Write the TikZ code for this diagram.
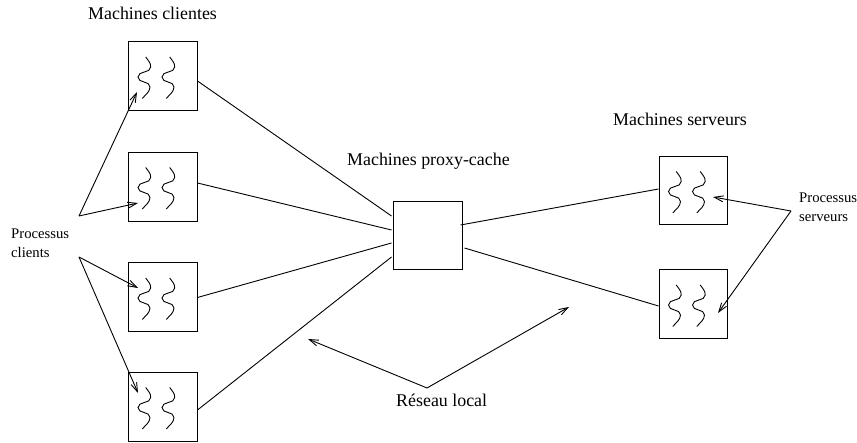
\documentclass[tikz,border=0pt]{standalone}
\usepackage{fontspec}
\setmainfont{Liberation Serif}
\usetikzlibrary{calc,arrows.meta}
\tikzset{
  machine/.style={draw, line width=1pt, minimum width=69pt, minimum height=69pt, inner sep=0pt},
  link/.style={line width=0.9pt},
  pointer/.style={line width=0.9pt, -{Straight Barb[length=9pt,width=6pt,line width=0.9pt]}},
  bigtext/.style={inner sep=0pt, anchor=base west, font=\fontsize{17.9}{21}\selectfont},
  smalltext/.style={inner sep=0pt, anchor=base west, align=left, font=\fontsize{14.7}{19}\selectfont},
  waves/.pic={
    \foreach \dx in {0,24}{
      \draw[line width=0.9pt] (-16.8+\dx,-19.5) .. controls (-14+\dx,-15.5) and (-11.8+\dx,-14) .. (-11.8+\dx,-9.5)
        .. controls (-11.8+\dx,-3) and (-24.5+\dx,-6) .. (-24.5+\dx,0.5)
        .. controls (-24.5+\dx,7) and (-12.5+\dx,4) .. (-12.5+\dx,10.5)
        .. controls (-12.5+\dx,15.5) and (-17.5+\dx,18.5) .. (-20.2+\dx,22);
    }
  }
}
\begin{document}
\begin{tikzpicture}[x=1pt,y=-1pt]
\useasboundingbox (0,0) rectangle (857,443);
% machines
\node[machine] (c1) at (162.5,76.5) {};
\node[machine] (c2) at (162.5,187) {};
\node[machine] (c3) at (162.5,297.5) {};
\node[machine] (c4) at (162.5,407) {};
\node[machine, minimum height=68pt] (p) at (427.5,236) {};
\node[machine, minimum width=68pt, minimum height=68pt] (s1) at (693,191) {};
\node[machine, minimum width=68pt, minimum height=69pt] (s2) at (693,304.5) {};
\foreach \m in {c1,c2,c3,c4,s1,s2} \pic at (\m) {waves};
% titles
\node[bigtext] (tclients) at (88,20) {Machines clientes};
\node[bigtext] (tproxy) at (347,166) {Machines proxy-cache};
\node[bigtext] (tservers) at (613,126) {Machines serveurs};
\node[bigtext] (treseau) at (396,407) {Réseau local};
\node[smalltext] (tpc) at (11,258) {Processus\\clients};
\node[smalltext] (tps) at (799,222) {Processus\\serveurs};
% links clients -> proxy
\draw[link] ($(c1.east)+(0,4.5)$) -- ($(p.west)+(-1,-20)$);
\draw[link] ($(c2.east)+(0,-4)$) -- ($(p.west)+(-1,-6)$);
\draw[link] ($(c3.east)+(0,0)$) -- ($(p.west)+(-1,7)$);
\draw[link] ($(c4.east)+(0,3)$) -- ($(p.west)+(-1,21)$);
% links proxy -> servers
\draw[link] ($(p.east)+(-2,-11)$) -- ($(s1.west)+(0,-2)$);
\draw[link] ($(p.east)+(2,12)$) -- ($(s2.west)+(0,1.5)$);
% pointers
\coordinate (vc1) at (79,216);
\coordinate (vc2) at (79,257);
\coordinate (vs) at (791,211);
\coordinate (vr) at (427,388);
\coordinate (rl) at (308,339);
\coordinate (rr) at (569,307);
\draw[pointer] (vc1) -- ($(c1)+(-25.5,15.5)$);
\draw[pointer] (vc1) -- ($(c2)+(-24.5,16)$);
\draw[pointer] (vc2) -- ($(c3)+(-24.5,-9.5)$);
\draw[pointer] (vc2) -- ($(c4)+(-24.5,-14)$);
\draw[pointer] (vs) -- ($(s1)+(20,6)$);
\draw[pointer] (vs) -- ($(s2)+(25,8.5)$);
\draw[pointer] (vr) -- (rl);
\draw[pointer] (vr) -- (rr);
\end{tikzpicture}
\end{document}
